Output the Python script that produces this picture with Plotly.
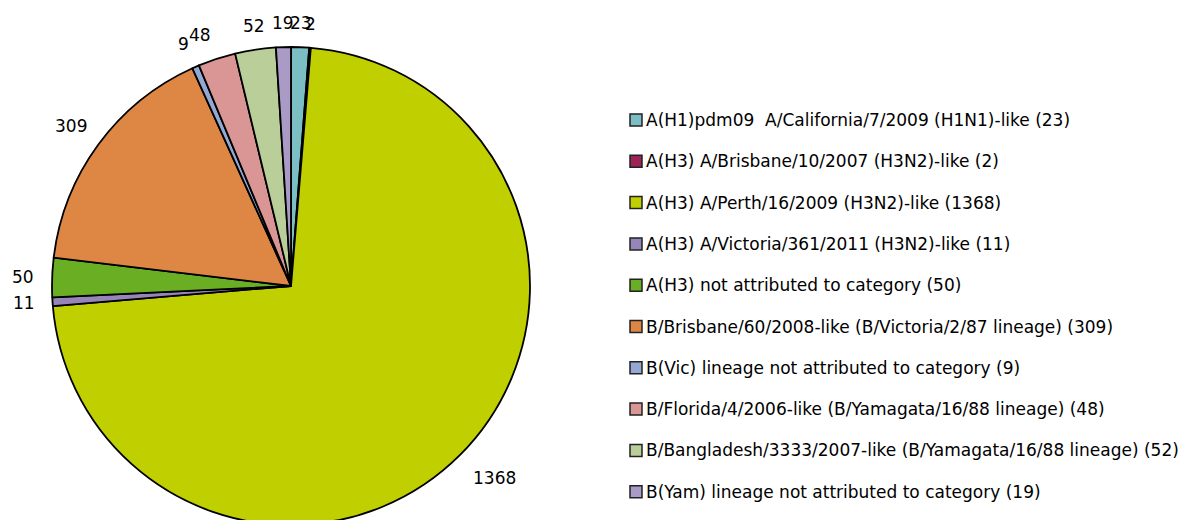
import math
import plotly.graph_objects as go

# Influenza virus characterisations by antigenic category
categories = [
    "A(H1)pdm09\u00a0 A/California/7/2009 (H1N1)-like",
    "A(H3) A/Brisbane/10/2007 (H3N2)-like",
    "A(H3) A/Perth/16/2009 (H3N2)-like",
    "A(H3) A/Victoria/361/2011 (H3N2)-like",
    "A(H3) not attributed to category",
    "B/Brisbane/60/2008-like (B/Victoria/2/87 lineage)",
    "B(Vic) lineage not attributed to category",
    "B/Florida/4/2006-like (B/Yamagata/16/88 lineage)",
    "B/Bangladesh/3333/2007-like (B/Yamagata/16/88 lineage)",
    "B(Yam) lineage not attributed to category",
]
counts = [23, 2, 1368, 11, 50, 309, 9, 48, 52, 19]
colors = ["#7BBFC4", "#9B2355", "#BFCF00", "#9585B8", "#6AAF23",
          "#DE8643", "#93A9D3", "#D99694", "#B9CE98", "#A99BC5"]

W, H = 1191, 530
FONT = "DejaVu Sans"
FS_LEGEND = 17
FS_LABEL = 17

# pie geometry in pixels
cx, cy, R = 291, 286, 239


def px_x(x):
    return x / W


def px_y(y):
    return 1 - y / H


fig = go.Figure()
fig.add_trace(go.Pie(
    labels=categories,
    values=counts,
    sort=False,
    direction="clockwise",
    rotation=0,
    marker=dict(colors=colors, line=dict(color="black", width=1.8)),
    textinfo="none",
    hoverinfo="label+value",
    showlegend=False,
    domain=dict(x=[px_x(cx - R), px_x(cx + R)], y=[px_y(cy + R), px_y(cy - R)]),
))

annotations = []
shapes = []

# value labels outside each slice
total = sum(counts)
cum = 0
for v in counts:
    mid = (cum + v / 2) / total * 2 * math.pi
    cum += v
    s, c = math.sin(mid), math.cos(mid)
    xa = "left" if s > 0.3 else ("right" if s < -0.3 else "center")
    ya = "bottom" if c > 0.3 else ("top" if c < -0.3 else "middle")
    r = R + (12 if ya == "bottom" else 16)
    lx, ly = cx + s * r, cy - c * r
    annotations.append(dict(
        x=px_x(lx), y=px_y(ly), xref="paper", yref="paper",
        text=str(v), showarrow=False, xanchor=xa, yanchor=ya,
        font=dict(family=FONT, size=FS_LABEL, color="black"),
    ))

# legend entries
ly0, step = 120, 41.3
sq = 12
for i, (name, v, col) in enumerate(zip(categories, counts, colors)):
    yc = ly0 + i * step
    shapes.append(dict(
        type="rect", xref="paper", yref="paper",
        x0=px_x(630), x1=px_x(630 + sq), y0=px_y(yc + sq / 2), y1=px_y(yc - sq / 2),
        fillcolor=col, line=dict(color="#222222", width=1.5),
    ))
    annotations.append(dict(
        x=px_x(644), y=px_y(yc), xref="paper", yref="paper",
        text=f"{name} ({v})", showarrow=False, xanchor="left", yanchor="middle",
        font=dict(family=FONT, size=FS_LEGEND, color="black"),
    ))

fig.update_layout(
    width=W, height=H,
    margin=dict(l=0, r=0, t=0, b=0),
    paper_bgcolor="white", plot_bgcolor="white",
    annotations=annotations, shapes=shapes,
)

fig.write_html(
    "out.html",
    post_script="document.documentElement.style.overflow='hidden';document.body.style.overflow='hidden';",
)
